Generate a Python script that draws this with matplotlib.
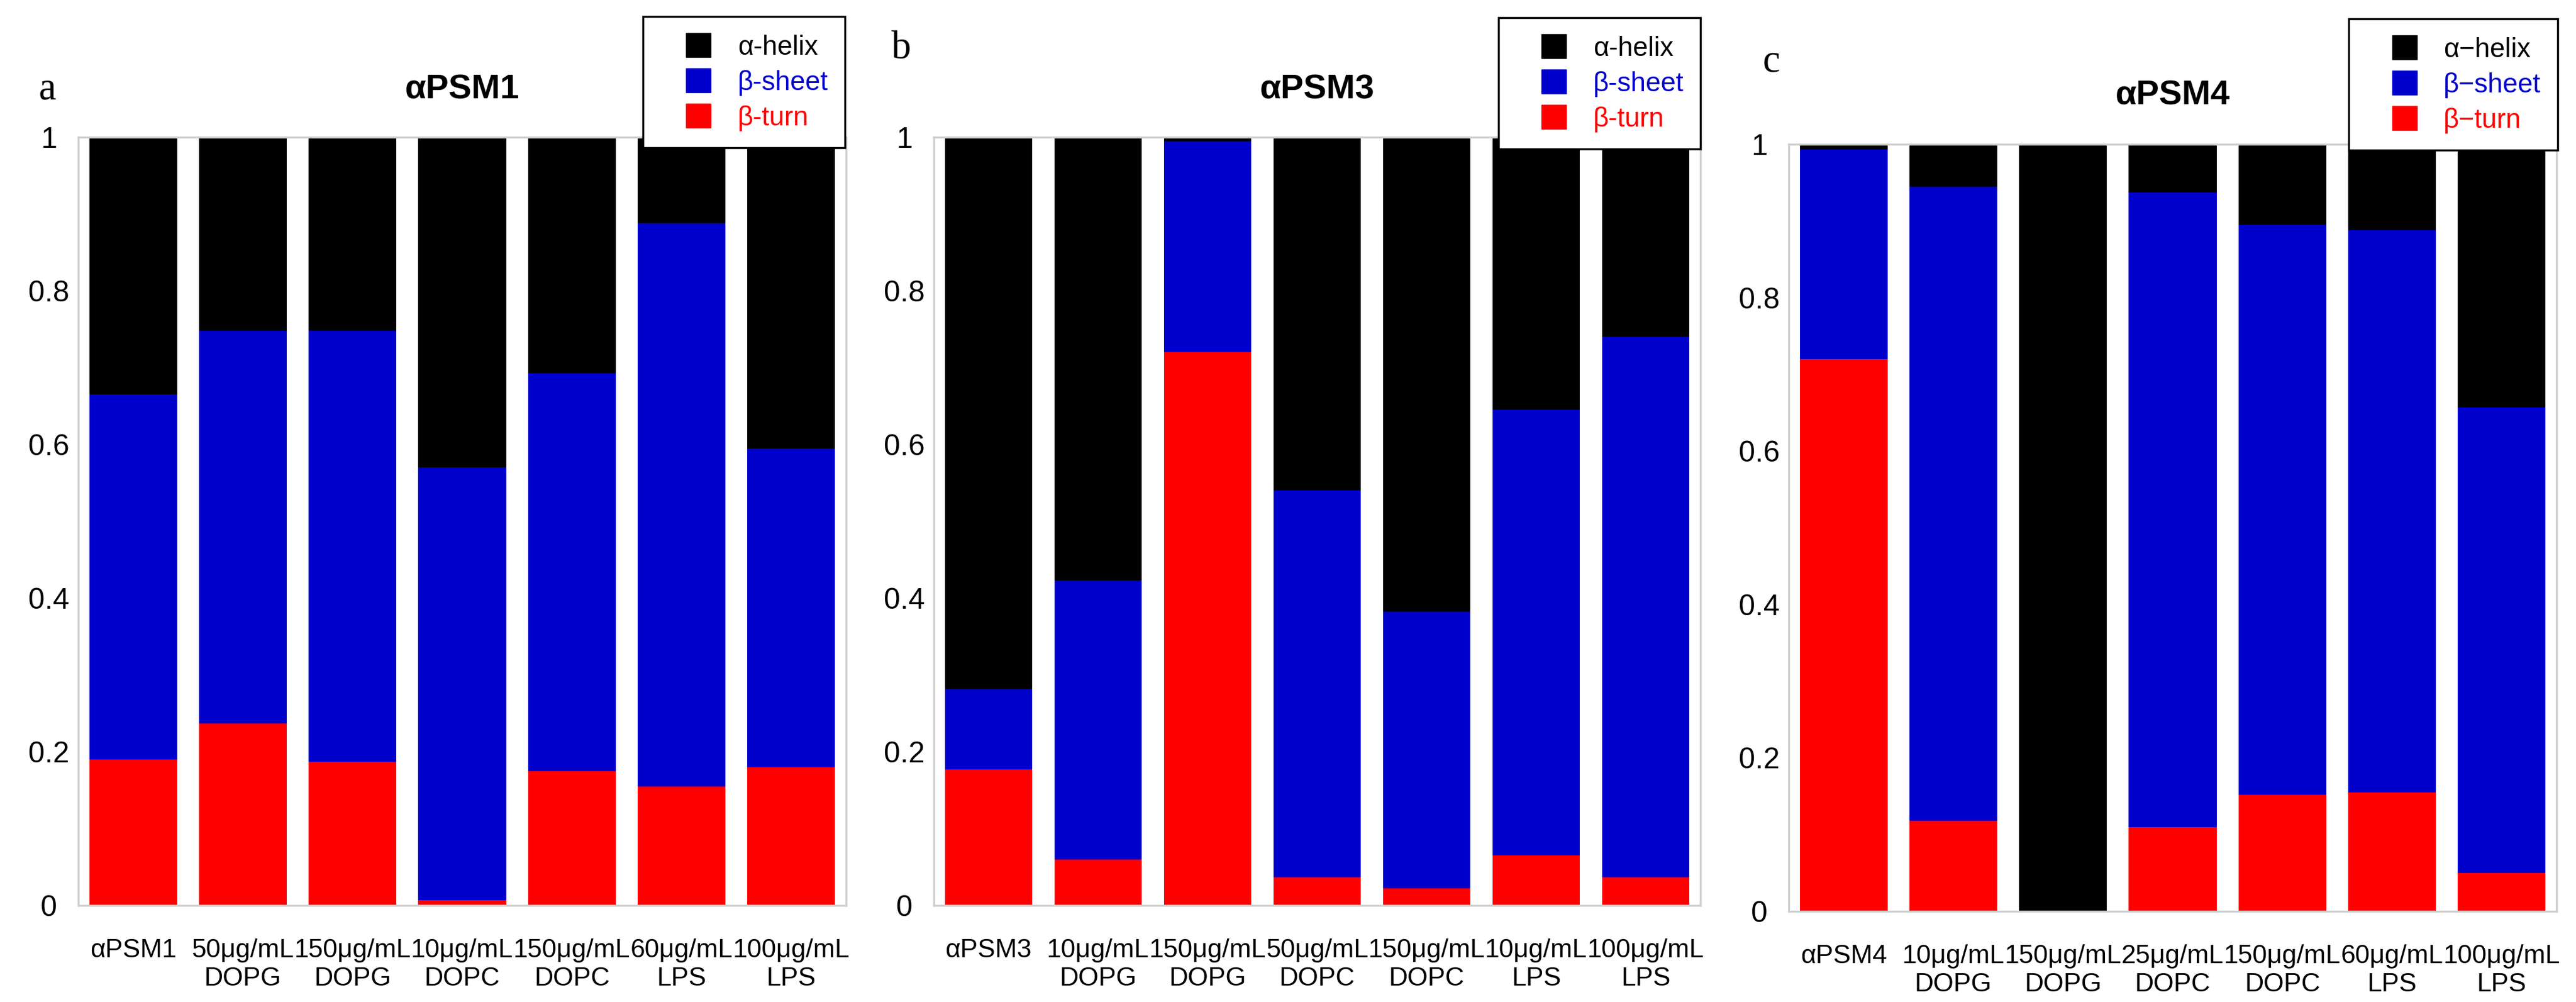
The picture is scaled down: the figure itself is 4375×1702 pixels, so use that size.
import numpy as np
import matplotlib
matplotlib.use("Agg")
import matplotlib.pyplot as plt
from matplotlib.patches import Patch, Rectangle
from matplotlib.legend_handler import HandlerPatch

plt.rcParams['font.family'] = ['Liberation Sans', 'DejaVu Sans']

# ---------------- data ----------------
cats_a = ['αPSM1', '50μg/mL\nDOPG', '150μg/mL\nDOPG', '10μg/mL\nDOPC',
          '150μg/mL\nDOPC', '60μg/mL\nLPS', '100μg/mL\nLPS']
turn_a = [0.190, 0.237, 0.187, 0.007, 0.175, 0.155, 0.180]
sheet_a = [0.475, 0.511, 0.561, 0.563, 0.518, 0.733, 0.415]
helix_a = [0.335, 0.252, 0.252, 0.430, 0.307, 0.112, 0.405]

cats_b = ['αPSM3', '10μg/mL\nDOPG', '150μg/mL\nDOPG', '50μg/mL\nDOPC',
          '150μg/mL\nDOPC', '10μg/mL\nLPS', '100μg/mL\nLPS']
turn_b = [0.177, 0.060, 0.720, 0.037, 0.022, 0.065, 0.037]
sheet_b = [0.105, 0.363, 0.275, 0.503, 0.360, 0.580, 0.703]
helix_b = [0.718, 0.577, 0.005, 0.460, 0.618, 0.355, 0.260]

cats_c = ['αPSM4', '10μg/mL\nDOPG', '150μg/mL\nDOPG', '25μg/mL\nDOPC',
          '150μg/mL\nDOPC', '60μg/mL\nLPS', '100μg/mL\nLPS']
turn_c = [0.720, 0.118, 0.000, 0.110, 0.152, 0.155, 0.050]
sheet_c = [0.273, 0.827, 0.000, 0.827, 0.743, 0.733, 0.607]
helix_c = [0.007, 0.055, 1.000, 0.063, 0.105, 0.112, 0.343]

yticks = [0, 0.2, 0.4, 0.6, 0.8, 1]
ytick_labels = ['0', '0.2', '0.4', '0.6', '0.8', '1']

legend_ab = ['α-helix', 'β-sheet', 'β-turn']
legend_c = ['α\u2212helix', 'β\u2212sheet', 'β\u2212turn']
titles = ['αPSM1', 'αPSM3', 'αPSM4']
letters = ['a', 'b', 'c']

C_HELIX = '#000000'
C_SHEET = '#0000cd'
C_TURN = '#ff0000'

# ---------------- layout (pixels) ----------------
W, H = 4375, 1702
fig = plt.figure(figsize=(W / 100, H / 100), dpi=100)


def fx(px):
    return px / W


def fy(py):
    return 1 - py / H


panels = [
    dict(cats=cats_a, turn=turn_a, sheet=sheet_a, helix=helix_a, leg=legend_ab,
         box=(133, 233, 1437, 1538), letter_xy=(80, 152), title_y=152,
         legbox=(1435, 28)),
    dict(cats=cats_b, turn=turn_b, sheet=sheet_b, helix=helix_b, leg=legend_ab,
         box=(1586, 233, 2888, 1538), letter_xy=(1531, 83), title_y=153,
         legbox=(2888, 30)),
    dict(cats=cats_c, turn=turn_c, sheet=sheet_c, helix=helix_c, leg=legend_c,
         box=(3038, 245, 4342, 1548), letter_xy=(3008, 105), title_y=163,
         legbox=(4344, 32)),
]


def right_patch(legend, orig_handle, xdescent, ydescent, width, height, fontsize):
    w = height * 1.02
    return Rectangle((width - xdescent - w, -ydescent), w, height)


for i, p in enumerate(panels):
    l, t, r, b = p['box']
    ax = fig.add_axes([fx(l), fy(b), (r - l) / W, (b - t) / H])
    x = np.arange(len(p['cats']))
    turn = np.array(p['turn'])
    sheet = np.array(p['sheet'])
    helix = np.array(p['helix'])
    ax.bar(x, turn, 0.8, color=C_TURN, linewidth=0)
    ax.bar(x, sheet, 0.8, bottom=turn, color=C_SHEET, linewidth=0)
    ax.bar(x, helix, 0.8, bottom=turn + sheet, color=C_HELIX, linewidth=0)
    ax.set_xlim(-0.5, len(x) - 0.5)
    ax.set_ylim(0, 1)
    ax.set_yticks(yticks)
    ax.set_yticklabels(ytick_labels, fontsize=36)
    for lab in ax.get_yticklabels():
        lab.set_horizontalalignment('center')
    ax.set_xticks(x)
    ax.set_xticklabels(p['cats'], fontsize=32, linespacing=1.22)
    ax.tick_params(axis='y', length=0, pad=36)
    ax.tick_params(axis='x', length=0, pad=40)
    for s in ax.spines.values():
        s.set_color('#cfcfcf')
        s.set_linewidth(2.5)

    cx = (l + r) / 2
    fig.text(fx(cx), fy(p['title_y']), titles[i], fontsize=42, fontweight='bold',
             ha='center', va='center')
    fig.text(fx(p['letter_xy'][0]), fy(p['letter_xy'][1]), letters[i],
             fontsize=48, family=['Liberation Serif', 'DejaVu Serif'],
             ha='center', va='center')

    handles = [Patch(color=C_HELIX), Patch(color=C_SHEET), Patch(color=C_TURN)]
    leg = ax.legend(handles, p['leg'], loc='upper right',
                    bbox_to_anchor=(fx(p['legbox'][0]), fy(p['legbox'][1])),
                    bbox_transform=fig.transFigure, borderaxespad=0,
                    fontsize=33, frameon=True, fancybox=False, framealpha=1,
                    edgecolor='black', handlelength=1.9, handleheight=1.0,
                    handletextpad=1.0, borderpad=0.62, labelspacing=0.3,
                    handler_map={Patch: HandlerPatch(patch_func=right_patch)})
    leg.get_frame().set_linewidth(2.5)
    for txt, col in zip(leg.get_texts(), [C_HELIX, C_SHEET, C_TURN]):
        txt.set_color(col)

fig.savefig('out.png', dpi=100)
